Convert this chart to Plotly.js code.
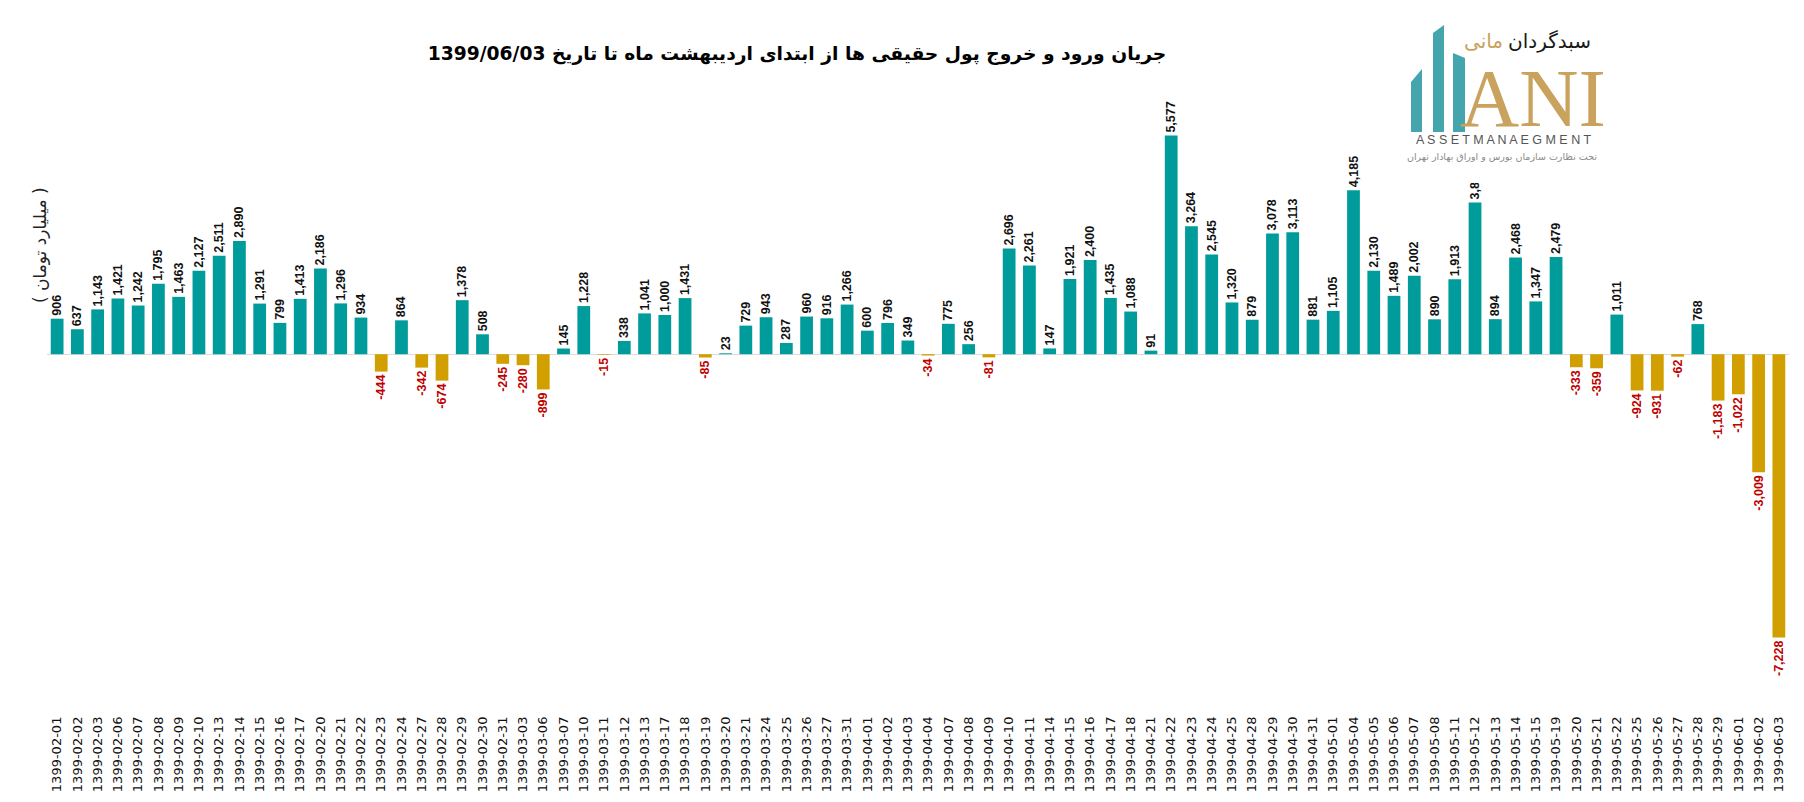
<!DOCTYPE html>
<html>
<head>
<meta charset="utf-8">
<script src="https://cdn.plot.ly/plotly-3.0.1.min.js"></script>
<style>
  html, body { margin: 0; padding: 0; background: #fff; }
  #plot1 { width: 1804px; height: 802px; }
</style>
</head>
<body>
<div id="plot1"></div>
<script>
/////////////////////////////////////////////// data ///////////////////////////////////////////////////////
const dates = [
  '1399-02-01', '1399-02-02', '1399-02-03', '1399-02-06', '1399-02-07', '1399-02-08', '1399-02-09', '1399-02-10',
  '1399-02-13', '1399-02-14', '1399-02-15', '1399-02-16', '1399-02-17', '1399-02-20', '1399-02-21', '1399-02-22',
  '1399-02-23', '1399-02-24', '1399-02-27', '1399-02-28', '1399-02-29', '1399-02-30', '1399-02-31', '1399-03-03',
  '1399-03-06', '1399-03-07', '1399-03-10', '1399-03-11', '1399-03-12', '1399-03-13', '1399-03-17', '1399-03-18',
  '1399-03-19', '1399-03-20', '1399-03-21', '1399-03-24', '1399-03-25', '1399-03-26', '1399-03-27', '1399-03-31',
  '1399-04-01', '1399-04-02', '1399-04-03', '1399-04-04', '1399-04-07', '1399-04-08', '1399-04-09', '1399-04-10',
  '1399-04-11', '1399-04-14', '1399-04-15', '1399-04-16', '1399-04-17', '1399-04-18', '1399-04-21', '1399-04-22',
  '1399-04-23', '1399-04-24', '1399-04-25', '1399-04-28', '1399-04-29', '1399-04-30', '1399-04-31', '1399-05-01',
  '1399-05-04', '1399-05-05', '1399-05-06', '1399-05-07', '1399-05-08', '1399-05-11', '1399-05-12', '1399-05-13',
  '1399-05-14', '1399-05-15', '1399-05-19', '1399-05-20', '1399-05-21', '1399-05-22', '1399-05-25', '1399-05-26',
  '1399-05-27', '1399-05-28', '1399-05-29', '1399-06-01', '1399-06-02', '1399-06-03',
];

// billion toman, net flow of individual investors
const netFlow = [
  906, 637, 1143, 1421, 1242, 1795, 1463, 2127,
  2511, 2890, 1291, 799, 1413, 2186, 1296, 934,
  -444, 864, -342, -674, 1378, 508, -245, -280,
  -899, 145, 1228, -15, 338, 1041, 1000, 1431,
  -85, 23, 729, 943, 287, 960, 916, 1266,
  600, 796, 349, -34, 775, 256, -81, 2696,
  2261, 147, 1921, 2400, 1435, 1088, 91, 5577,
  3264, 2545, 1320, 879, 3078, 3113, 881, 1105,
  4185, 2130, 1489, 2002, 890, 1913, 3869, 894,
  2468, 1347, 2479, -333, -359, 1011, -924, -931,
  -62, 768, -1183, -1022, -3009, -7228,
];

const titleText = '1399/06/03 جریان ورود و خروج پول حقیقی ها از ابتدای اردیبهشت ماه تا تاریخ';
const yTitleText = '( میلیارد تومان )';

/////////////////////////////////////////////// layout helpers ///////////////////////////////////////////////////////
const plotL = 47, plotR = 1789, plotT = 119, plotB = 707;
function px(x) { return (x - plotL) / (plotR - plotL); }
function py(y) { return (plotB - y) / (plotB - plotT); }

const colUp = '#009b9b';
const colDown = '#d19f00';
const logoTeal = '#45a5ad';
const logoGold = '#c9a25e';

const barColors = netFlow.map(v => v < 0 ? colDown : colUp);
const textColors = netFlow.map(v => v < 0 ? '#c00000' : '#111111');
const barText = netFlow.map(v => v.toLocaleString('en-US'));

/////////////////////////////////////////////// plot ///////////////////////////////////////////////////////
const traceFlow = {
  type: 'bar',
  x: dates,
  y: netFlow,
  text: barText,
  textposition: 'outside',
  textangle: -90,
  constraintext: 'none',
  cliponaxis: false,
  textfont: { family: 'Liberation Sans, Arial, sans-serif', size: 12.5, color: textColors, weight: 'bold' },
  marker: { color: barColors },
  hoverinfo: 'x+y',
};

// logo (its white box covers the top of one label, as in the original picture)
function barPath(x0, x1, yTopL, yTopR, yBot) {
  return 'M' + px(x0) + ',' + py(yBot) + ' L' + px(x0) + ',' + py(yTopL) +
         ' L' + px(x1) + ',' + py(yTopR) + ' L' + px(x1) + ',' + py(yBot) + ' Z';
}

const shapes = [
  { type: 'rect', xref: 'paper', yref: 'paper', layer: 'above',
    x0: px(1400), x1: px(1612), y0: py(183), y1: py(12),
    fillcolor: '#ffffff', line: { width: 0 } },
  { type: 'path', xref: 'paper', yref: 'paper', layer: 'above',
    path: barPath(1411, 1422, 82, 69, 132), fillcolor: logoTeal, line: { width: 0 } },
  { type: 'path', xref: 'paper', yref: 'paper', layer: 'above',
    path: barPath(1433, 1444, 33, 25, 132), fillcolor: logoTeal, line: { width: 0 } },
  { type: 'path', xref: 'paper', yref: 'paper', layer: 'above',
    path: barPath(1453, 1465, 53, 58, 132), fillcolor: logoTeal, line: { width: 0 } },
];

function note(text, x, y, font, extra) {
  return Object.assign({
    text: text, xref: 'paper', yref: 'paper', x: px(x), y: py(y),
    xanchor: 'center', yanchor: 'middle', showarrow: false, font: font,
  }, extra || {});
}

const annotations = [
  note(yTitleText, 40, 245, { family: 'DejaVu Sans, sans-serif', size: 17, color: '#222' }, { textangle: -90 }),
  // logo texts
  note('سبدگردان', 1593, 41, { family: 'DejaVu Sans, sans-serif', size: 20, color: '#1a1a1a' }, { xanchor: 'right' }),
  note('مانی', 1505, 41, { family: 'DejaVu Sans, sans-serif', size: 20, color: logoGold }, { xanchor: 'right' }),
  note('ANI', 1533, 99, { family: 'Liberation Serif, serif', size: 82, color: logoGold }),
  note('A S S E T M A N A E G M E N T', 1503, 140, { family: 'Liberation Sans, sans-serif', size: 12.5, color: '#555' }),
  note('تحت نظارت سازمان بورس و اوراق بهادار تهران', 1502, 156, { family: 'DejaVu Sans, sans-serif', size: 9.5, color: '#8a8a8a' }),
];

const layoutFlow = {
  width: 1804,
  height: 802,
  paper_bgcolor: '#ffffff',
  plot_bgcolor: '#ffffff',
  margin: { l: plotL, r: 1804 - plotR, t: plotT, b: 802 - plotB, pad: 0 },
  showlegend: false,
  bargap: 0.37,
  title: {
    text: '<b>' + titleText + '</b>',
    xref: 'container', yref: 'container',
    x: 797 / 1804, y: 1 - 53 / 802,
    xanchor: 'center', yanchor: 'middle',
    font: { family: 'DejaVu Sans, sans-serif', size: 18.7, color: '#000' },
  },
  xaxis: {
    type: 'category',
    tickangle: -90,
    ticks: '',
    showline: false,
    showgrid: false,
    ticklabelstandoff: 6,
    tickfont: { family: 'DejaVu Sans, sans-serif', size: 13, color: '#111' },
  },
  yaxis: {
    range: [-9000, 6000],
    showticklabels: false,
    showgrid: false,
    zeroline: true,
    zerolinecolor: '#dcdcdc',
    zerolinewidth: 1,
    fixedrange: true,
  },
  shapes: shapes,
  annotations: annotations,
};

Plotly.newPlot('plot1', [traceFlow], layoutFlow, { displayModeBar: false, staticPlot: true });
</script>
</body>
</html>
